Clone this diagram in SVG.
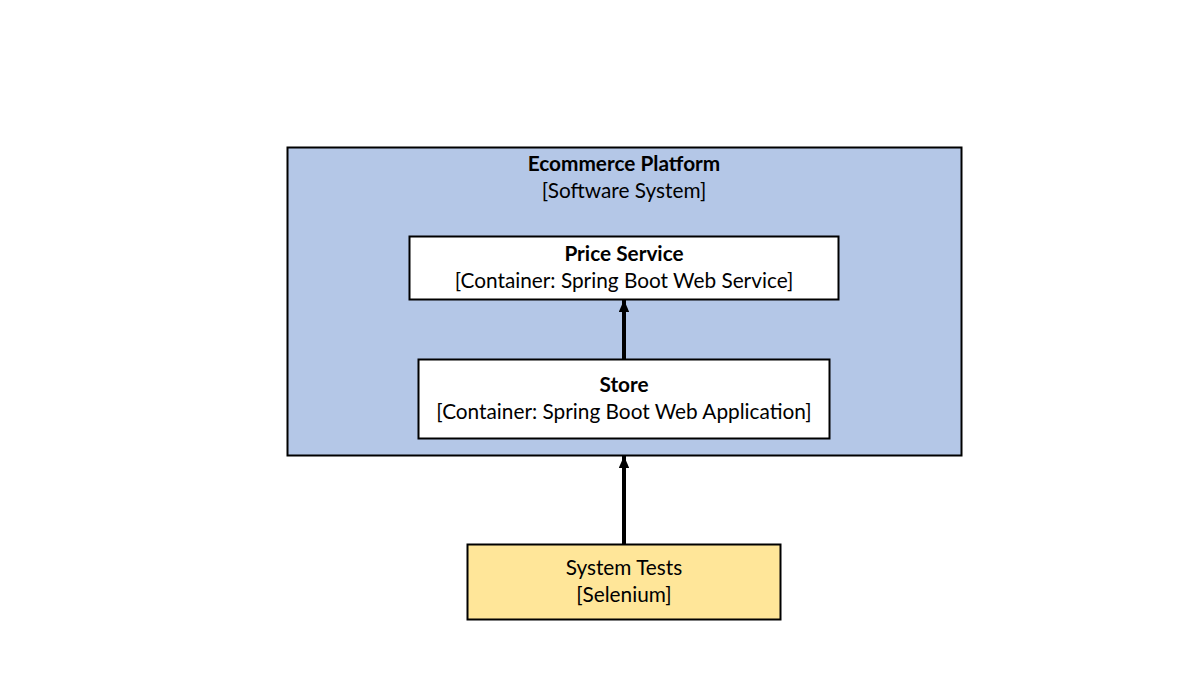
<svg xmlns="http://www.w3.org/2000/svg" width="1200" height="675" viewBox="0 0 1200 675">
<style>
text{font-family:Lato,"Open Sans","Liberation Sans",sans-serif;font-size:20.8px;fill:#000;text-anchor:middle}
.b{font-weight:bold}
.box{stroke:#000;stroke-width:2}
.edge{stroke:#000;stroke-width:4;fill:none;marker-end:url(#ah)}
</style>
<defs>
<marker id="ah" viewBox="0 0 10 10" refX="10" refY="5" markerWidth="3" markerHeight="2.6" orient="auto" markerUnits="strokeWidth" preserveAspectRatio="none">
<path d="M0,0 L10,5 L0,10 z" fill="#000"/>
</marker>
</defs>
<rect width="1200" height="675" fill="#fff"/>
<g id="ecommerce-platform">
<rect class="box" x="287.5" y="147.5" width="674" height="308" fill="#B4C7E7"/>
<text class="b" x="624" y="171">Ecommerce Platform</text>
<text x="624" y="198">[Software System]</text>
</g>
<g id="price-service">
<rect class="box" x="409.5" y="236.5" width="429" height="63" fill="#fff"/>
<text class="b" x="624" y="261">Price Service</text>
<text x="624" y="288">[Container: Spring Boot Web Service]</text>
</g>
<g id="store">
<rect class="box" x="418.5" y="359.5" width="411" height="79" fill="#fff"/>
<text class="b" x="624" y="392">Store</text>
<text x="624" y="419">[Container: Spring Boot Web Application]</text>
</g>
<g id="system-tests">
<rect class="box" x="467.5" y="544.5" width="313" height="75" fill="#FFE699"/>
<text x="624" y="575">System Tests</text>
<text x="624" y="602">[Selenium]</text>
</g>
<g id="connectors">
<line class="edge" x1="624" y1="359" x2="624" y2="300"/>
<line class="edge" x1="624" y1="544" x2="624" y2="456"/>
</g>
</svg>
